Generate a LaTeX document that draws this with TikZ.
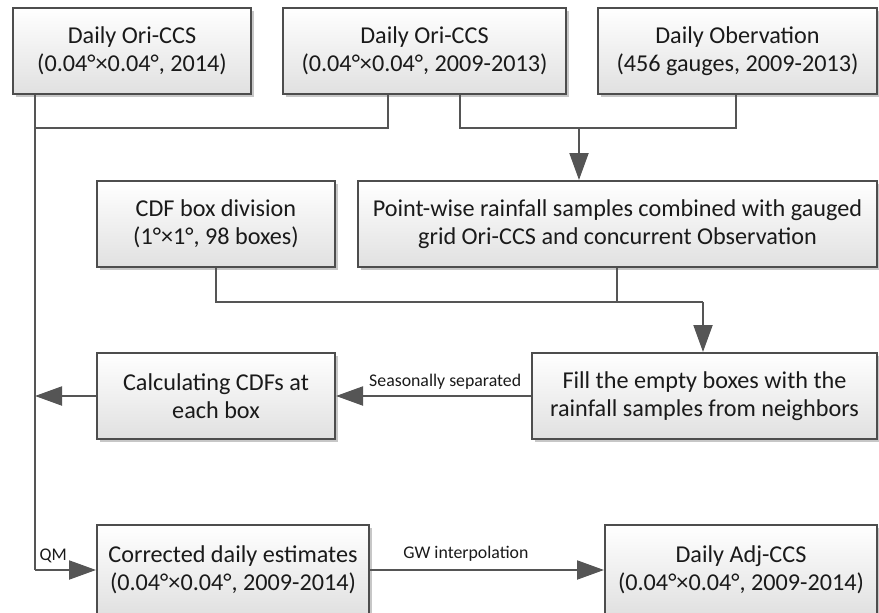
\documentclass[tikz,border=0pt]{standalone}
\usepackage{fontspec}
\setmainfont{Carlito}
\usetikzlibrary{arrows.meta,shadows}
\definecolor{linec}{HTML}{555555}
\definecolor{boxline}{HTML}{4D4D4D}
\definecolor{txt}{HTML}{1A1A1A}
\tikzset{
  flowbox/.style={draw=boxline, line width=2pt, top color=white, bottom color=black!12,
    drop shadow={shadow xshift=3pt, shadow yshift=-3pt, opacity=0.22, fill=black},
    align=center, inner sep=0pt, text=txt,
    font=\fontsize{24.2}{28.5}\selectfont},
  conn/.style={draw=linec, line width=2pt},
  arr/.style={conn, -{Triangle[length=27pt,width=19pt]}},
  lbl/.style={text=txt, font=\fontsize{17.8}{20}\selectfont, inner sep=1pt}
}
\begin{document}
\begin{tikzpicture}[x=1pt,y=-1pt]
\useasboundingbox (0,0) rectangle (879,613);
\clip (0,0) rectangle (879,613);
% boxes
\node[flowbox, minimum width=238pt, minimum height=86pt] (b1) at (132,51) {Daily Ori-CCS\\(0.04°×0.04°, 2014)};
\node[flowbox, minimum width=283pt, minimum height=86pt] (b2) at (424.5,51) {Daily Ori-CCS\\(0.04°×0.04°, 2009-2013)};
\node[flowbox, minimum width=279pt, minimum height=86pt] (b3) at (737.5,51) {Daily Obervation\\(456 gauges, 2009-2013)};
\node[flowbox, minimum width=238pt, minimum height=86pt] (cdf) at (216,224) {CDF box division\\(1°×1°, 98 boxes)};
\node[flowbox, minimum width=519pt, minimum height=86pt] (pw) at (617.5,224) {Point-wise rainfall samples combined with gauged\\grid Ori-CCS and concurrent Observation};
\node[flowbox, minimum width=238pt, minimum height=86pt] (calc) at (216,396) {Calculating CDFs at\\each box};
\node[flowbox, minimum width=345pt, minimum height=86pt] (fill) at (704.5,396) {Fill the empty boxes with the\\rainfall samples from neighbors};
\node[flowbox, minimum width=272pt, minimum height=90pt] (corr) at (233,570) {Corrected daily estimates\\(0.04°×0.04°, 2009-2014)};
\node[flowbox, minimum width=272pt, minimum height=90pt] (adj) at (741,570) {Daily Adj-CCS\\(0.04°×0.04°, 2009-2014)};
% junction coordinates
\coordinate (j1) at (35,128);
\coordinate (j2) at (579,128);
\coordinate (j3) at (703,302);
\coordinate (j4) at (35,396);
\coordinate (j5) at (35,570);
% connectors
\draw[conn] (35,0 |- b1.south) -- (j5);
\draw[conn] (388,0 |- b2.south) |- (j1);
\draw[conn] (460,0 |- b2.south) |- (736,128) -- (736,0 |- b3.south);
\draw[arr] (j2) -- (579,0 |- pw.north);
\draw[conn] (216,0 |- cdf.south) |- (j3);
\draw[conn] (617,0 |- pw.south) -- (617,302);
\draw[arr] (j3) -- (703,0 |- fill.north);
\draw[arr] (fill.west) -- node[lbl, pos=0.44, above=5pt] (l1) {Seasonally separated} (calc.east);
\draw[arr] (calc.west) -- (j4);
\draw[arr] (j5) -- node[lbl, pos=0.3, above=5pt] (l2) {QM} (corr.west);
\draw[arr] (corr.east) -- node[lbl, pos=0.41, above=7pt] (l3) {GW interpolation} (adj.west);
\end{tikzpicture}
\end{document}
